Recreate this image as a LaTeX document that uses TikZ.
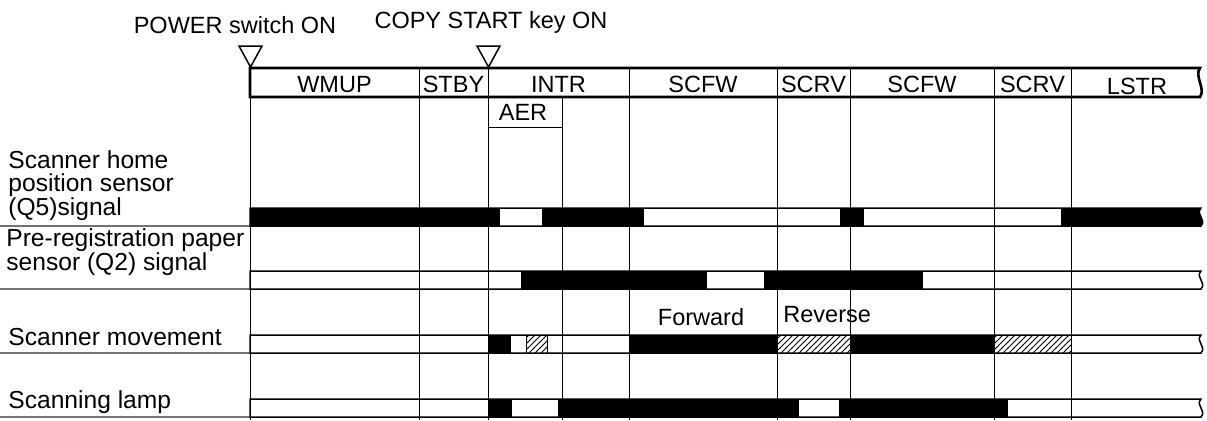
\documentclass[tikz,border=0pt]{standalone}
\usepackage{fontspec}
\setmainfont{Liberation Sans}
\usetikzlibrary{patterns}

\begin{document}
\begin{tikzpicture}[x=0.5pt, y=-0.5pt, font=\fontsize{11.75}{11.75}\selectfont,
  grid/.style={line width=0.5pt},
  sep/.style={draw=black!55, line width=0.6pt},
  bar/.style={line width=0.75pt},
  hatch/.style={pattern=north east lines, draw, line width=0.5pt},
  trig/.style={line width=0.75pt, fill=white},
  txt/.style={anchor=base, inner sep=0pt},
  lbl/.style={anchor=base west, inner sep=0pt, align=left,
              font=\fontsize{12.3}{11.75}\selectfont},
]
\useasboundingbox (0,0) rectangle (1207,420);
% sequence header
\draw[line width=1.3pt] (250,68) -- (1200,68)
  .. controls (1194,76) and (1206,89) .. (1200,97) -- (250,97) -- cycle;
\foreach \x in {419,488,629,777,850,994,1071}
  \draw[grid] (\x,68) -- (\x,97);
\node[txt] (wmup) at (334.5,92) {WMUP};
\node[txt] (stby) at (453.5,92) {STBY};
\node[txt] (intr) at (558.5,92) {INTR};
\node[txt] (scfw1) at (703,92) {SCFW};
\node[txt] (scrv1) at (813.5,92) {SCRV};
\node[txt] (scfw2) at (922,92) {SCFW};
\node[txt] (scrv2) at (1032.5,92) {SCRV};
\node[txt] (lstr) at (1137,94) {LSTR};
\node[txt] (aer) at (523,120) {AER};
\draw[grid] (488,127) -- (562,127);
% trigger marks
\draw[trig] (239,46) -- (262,46) -- (250.5,67) -- cycle;
\draw[trig] (477,46) -- (500,46) -- (488.5,67) -- cycle;
\node[txt] (power) at (235,33) {POWER switch ON};
\node[txt] (copy) at (491,28) {COPY START key ON};
% signal rows
\foreach \y in {226,289,353,417}
  \draw[sep] (0,\y) -- (250,\y);
\foreach \ty in {208,271,335,399}
  \draw[bar] (250,\ty) -- (1201,\ty)
    .. controls (1195,\ty+7) and (1207,\ty+11) .. (1201,\ty+18)
    -- (250,\ty+18) -- cycle;
% Q5
\foreach \a/\b in {250/500,542/644,840/864}
  \fill (\a,208) rectangle (\b,226);
\fill (1061,208) -- (1201,208) .. controls (1195,215) and (1207,219) .. (1201,226)
  -- (1061,226) -- cycle;
% Q2
\foreach \a/\b in {521/707,764/923}
  \fill (\a,271) rectangle (\b,289);
% scanner
\foreach \a/\b in {488/511,629/777,850/994}
  \fill (\a,335) rectangle (\b,353);
\foreach \a/\b in {526/547,777/850,994/1071}
  \draw[hatch] (\a,335) rectangle (\b,353);
% lamp
\foreach \a/\b in {488/512,558/799,839/1008}
  \fill (\a,399) rectangle (\b,417);
% timing lines
\foreach \x in {250,419,488,562,629,777,850,994,1071}
  \draw[grid] (\x,97) -- (\x,420);
\node[lbl] (q5) at (8,215) {Scanner home\\position sensor\\(Q5)signal};
\node[lbl] (q2) at (6,270) {Pre-registration paper\\sensor (Q2) signal};
\node[lbl] (scan) at (8,345) {Scanner movement};
\node[lbl] (lamp) at (8,408) {Scanning lamp};
\node[txt] (fwd) at (701,325) {Forward};
\node[lbl, font=\fontsize{11.75}{11.75}\selectfont] (rev) at (783,322) {Reverse};
\end{tikzpicture}
\end{document}
